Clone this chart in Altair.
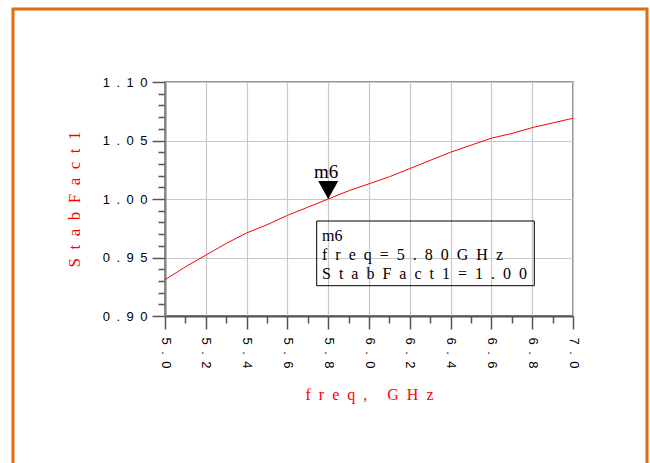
import altair as alt
import pandas as pd

# ---- data ----
freq = [5.0, 5.1, 5.2, 5.3, 5.4, 5.5, 5.6, 5.7, 5.8, 5.9, 6.0,
        6.1, 6.2, 6.3, 6.4, 6.5, 6.6, 6.7, 6.8, 6.9, 7.0]
stab_fact1 = [0.931, 0.942, 0.952, 0.962, 0.971, 0.978, 0.986, 0.993, 1.000, 1.007, 1.013,
              1.019, 1.026, 1.033, 1.040, 1.046, 1.052, 1.056, 1.061, 1.065, 1.069]

x_ticks = [5.0, 5.1, 5.2, 5.3, 5.4, 5.5, 5.6, 5.7, 5.8, 5.9, 6.0,
           6.1, 6.2, 6.3, 6.4, 6.5, 6.6, 6.7, 6.8, 6.9, 7.0]
y_ticks = [0.90, 0.91, 0.92, 0.93, 0.94, 0.95, 0.96, 0.97, 0.98, 0.99, 1.00,
           1.01, 1.02, 1.03, 1.04, 1.05, 1.06, 1.07, 1.08, 1.09, 1.10]

marker_name = ["m6"]
marker_freq = [5.80]
marker_value = [1.00]

SP = "\u2002"


def spaced(s):
    return SP.join(list(s))


line_df = pd.DataFrame({"freq": freq, "StabFact1": stab_fact1})
mk_df = pd.DataFrame({"freq": marker_freq, "StabFact1": marker_value, "name": marker_name})

box_texts = [marker_name[0],
             spaced(f"freq={marker_freq[0]:.2f}GHz"),
             spaced(f"StabFact1={marker_value[0]:.2f}")]

x_scale = alt.Scale(domain=[5.0, 7.0], nice=False, zero=False)
y_scale = alt.Scale(domain=[0.90, 1.10], nice=False, zero=False)

y_major = "abs(round(datum.value*100) % 5) < 0.5"
x_major = "abs(round(datum.value*10) % 2) < 0.5"

x_axis = alt.Axis(
    values=x_ticks,
    labelExpr=f"{x_major} ? join(split(format(datum.value, '.1f'), ''), '{SP}') : ''",
    labelAngle=90,
    labelFont="Liberation Sans", labelFontSize=13, labelColor="black",
    labelPadding=8,
    tickSize={"condition": {"test": x_major, "value": 13}, "value": 7},
    tickColor="#555555", tickWidth=1.5,
    domainColor="#555555", domainWidth=2,
    grid=True, gridColor="#c8c8c8", gridWidth=1.2,
    gridOpacity={"condition": {"test": x_major, "value": 1}, "value": 0},
    title=spaced("freq, GHz"),
    titleFont="Liberation Serif", titleFontSize=16, titleFontWeight="normal",
    titleColor="#ff0000", titlePadding=18,
)

y_axis = alt.Axis(
    values=y_ticks,
    labelExpr=f"{y_major} ? join(split(format(datum.value, '.2f'), ''), '{SP}') : ''",
    labelFont="Liberation Sans", labelFontSize=13, labelColor="black",
    labelPadding=5,
    tickSize={"condition": {"test": y_major, "value": 13}, "value": 7},
    tickColor="#555555", tickWidth=1.5,
    domainColor="#808080", domainWidth=2,
    grid=True, gridColor="#c8c8c8", gridWidth=1.2,
    gridOpacity={"condition": {"test": y_major, "value": 1}, "value": 0},
    title=spaced("StabFact1"),
    titleFont="Liberation Serif", titleFontSize=17, titleFontWeight="normal",
    titleColor="#ff0000", titlePadding=19,
)

X = alt.X("freq:Q", scale=x_scale, axis=x_axis)
Y = alt.Y("StabFact1:Q", scale=y_scale, axis=y_axis)

base_line = alt.Chart(line_df).mark_line(color="#ff0000", strokeWidth=1).encode(x=X, y=Y)

marker = alt.Chart(mk_df).mark_point(
    shape="M -1 -1.8 L 1 -1.8 L 0 0 Z", size=400, filled=True,
    color="black", opacity=1, strokeWidth=0,
).encode(x=X, y=Y)

marker_label = alt.Chart(mk_df).mark_text(
    font="Liberation Serif", fontSize=19, color="black",
    align="center", baseline="alphabetic", dy=-21, dx=-2,
).encode(x=X, y=Y, text="name:N")

box = alt.Chart(mk_df).mark_rect(
    fill=None, fillOpacity=0, stroke="black", strokeWidth=1,
).encode(
    x=alt.value(151.7), x2=alt.value(369.3),
    y=alt.value(139), y2=alt.value(203.7),
)

row_y = [159, 178, 197]
box_layers = []
for t, yy in zip(box_texts, row_y):
    box_layers.append(
        alt.Chart(mk_df).mark_text(
            font="Liberation Serif", fontSize=16, color="black",
            align="left", baseline="alphabetic", text=t,
        ).encode(x=alt.value(157), y=alt.value(yy))
    )

frame = alt.Chart(mk_df).mark_rect(
    fill=None, fillOpacity=0, stroke="#e46c0a", strokeWidth=3, clip=False,
).encode(
    x=alt.value(-152), x2=alt.value(482),
    y=alt.value(-73), y2=alt.value(420),
)

chart = alt.layer(base_line, marker, marker_label, box, *box_layers, frame).properties(
    width=408, height=234,
    autosize=alt.AutoSizeParams(type="none"),
    padding={"left": 165, "top": 82, "right": 77, "bottom": 147},
    background="white",
).configure_view(stroke="#707070", strokeWidth=1.5)

chart.save("out.html", embed_options={"renderer": "svg", "actions": False})
